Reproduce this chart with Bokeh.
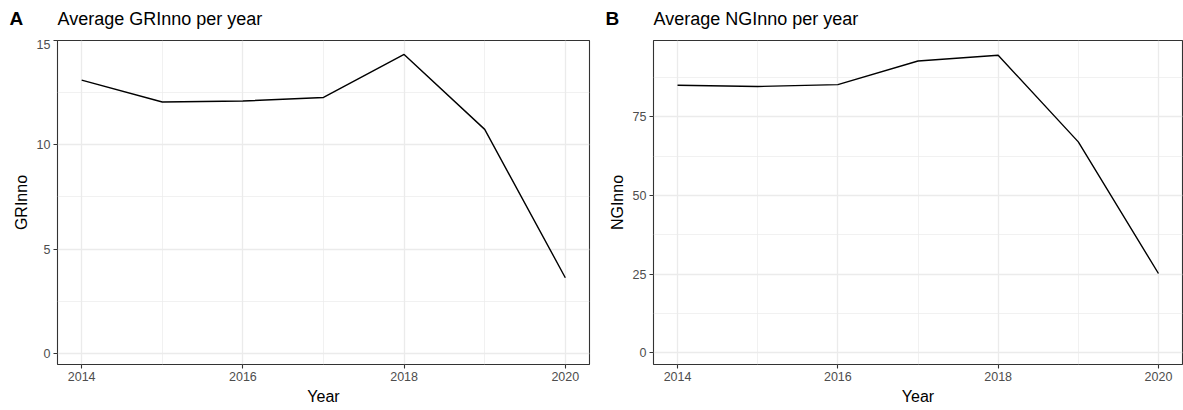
from bokeh.plotting import figure
from bokeh.layouts import row, column
from bokeh.models import FixedTicker, Range1d, Label
from bokeh.embed import file_html
from bokeh.resources import INLINE

years = [2014, 2015, 2016, 2017, 2018, 2019, 2020]
grinno = [13.1, 12.05, 12.1, 12.27, 14.33, 10.74, 3.63]
nginno = [85.0, 84.6, 85.2, 92.7, 94.5, 67.0, 25.2]

x_major = [2014, 2016, 2018, 2020]
x_minor = [2015, 2017, 2019]

tags = ["A", "B"]
titles = ["Average GRInno per year", "Average NGInno per year"]

FONT = "Liberation Sans"
W = 1183
HEAD = 39


def make_panel(ylabel, yvals, y_range, y_major, y_minor, width, left, right):
    p = figure(width=width, height=410 - HEAD, output_backend="svg", toolbar_location=None,
               x_range=Range1d(2013.7, 2020.3), y_range=Range1d(*y_range),
               min_border_left=left, min_border_right=right, min_border_top=1,
               min_border_bottom=46)
    p.line(years, yvals, line_color="black", line_width=1.4)
    p.background_fill_color = "white"
    p.border_fill_color = "white"
    p.outline_line_color = "#333333"
    p.outline_line_width = 1.1
    p.xaxis.ticker = FixedTicker(ticks=x_major, minor_ticks=x_minor)
    p.yaxis.ticker = FixedTicker(ticks=y_major, minor_ticks=y_minor)
    for ax in (p.xaxis, p.yaxis):
        ax.axis_line_color = None
        ax.major_tick_line_color = "#333333"
        ax.major_tick_line_width = 1.1
        ax.major_tick_out = 4
        ax.major_tick_in = 0
        ax.minor_tick_line_color = None
        ax.major_label_text_font = FONT
        ax.major_label_text_font_size = "12.5px"
        ax.major_label_text_color = "#4D4D4D"
        ax.axis_label_text_font = FONT
        ax.axis_label_text_font_size = "16px"
        ax.axis_label_text_font_style = "normal"
        ax.axis_label_text_color = "black"
        ax.major_label_standoff = 3
        ax.axis_label_standoff = 4
    p.xaxis.axis_label = "Year"
    p.yaxis.axis_label = ylabel
    for g in (p.xgrid, p.ygrid):
        g.grid_line_color = "#EBEBEB"
        g.grid_line_width = 1.3
        g.minor_grid_line_color = "#EBEBEB"
        g.minor_grid_line_width = 0.7
    return p


pa = make_panel("GRInno", grinno, (-0.53, 15.0),
                [0, 5, 10, 15], [2.5, 7.5, 12.5], 591, 57, 2)
pb = make_panel("NGInno", nginno, (-3.7, 99.2),
                [0, 25, 50, 75], [12.5, 37.5, 62.5, 87.5], 592, 62, 1)

# header strip holding the panel tags and titles (pixel coordinates)
head = figure(width=W, height=HEAD, output_backend="svg", toolbar_location=None,
              x_range=Range1d(0, W), y_range=Range1d(HEAD, 0),
              min_border_left=0, min_border_right=0, min_border_top=0,
              min_border_bottom=0, x_axis_type=None, y_axis_type=None)
head.grid.visible = False
head.outline_line_color = None
head.background_fill_color = "white"
head.border_fill_color = "white"
tag_x = [9, 605]
title_x = [57, 653]
for t, tx, ti, tix in zip(tags, tag_x, titles, title_x):
    head.add_layout(Label(x=tx, y=18, text=t, text_font=FONT, text_font_size="19px",
                          text_font_style="bold", text_baseline="middle",
                          text_color="black"))
    head.add_layout(Label(x=tix, y=18, text=ti, text_font=FONT, text_font_size="18px",
                          text_baseline="middle", text_color="black"))

layout = column(head, row(pa, pb), spacing=0)
open("out.html", "w").write(file_html(layout, INLINE))
